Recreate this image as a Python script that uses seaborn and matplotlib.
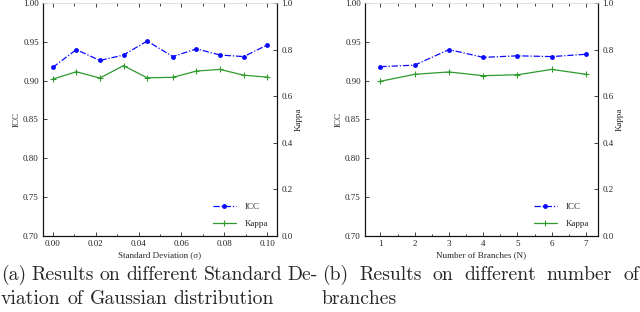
import matplotlib
matplotlib.use("Agg")
import matplotlib.pyplot as plt
import seaborn as sns
import pandas as pd
from matplotlib.ticker import AutoMinorLocator, MultipleLocator

# ---- data ----
sigma = [0.000, 0.011, 0.022, 0.033, 0.044, 0.056, 0.067, 0.078, 0.089, 0.100]
icc_sigma = [0.917, 0.940, 0.926, 0.933, 0.951, 0.931, 0.941, 0.933, 0.931, 0.946]
kappa_sigma = [0.673, 0.705, 0.678, 0.731, 0.679, 0.681, 0.708, 0.715, 0.690, 0.682]

branches = [1, 2, 3, 4, 5, 6, 7]
icc_branch = [0.918, 0.920, 0.940, 0.930, 0.932, 0.931, 0.934]
kappa_branch = [0.664, 0.694, 0.704, 0.688, 0.692, 0.715, 0.694]

xlabels = ["Standard Deviation (σ)", "Number of Branches (N)"]
captions = [
    ["(a) Results on different Standard De-", "viation of Gaussian distribution"],
    ["(b) Results on different number of", "branches"],
]

sns.set_style("white")
plt.rcParams["font.family"] = ["Liberation Serif", "DejaVu Serif"]
plt.rcParams["mathtext.fontset"] = "stix"

fig = plt.figure(figsize=(6.4, 3.12), dpi=100)
W, H = 640, 312

def add_ax(l, r, t, b):
    return fig.add_axes([l / W, 1 - b / H, (r - l) / W, (b - t) / H])

ax_a = add_ax(43, 277, 3, 236)
ax_b = add_ax(365, 598, 3, 236)

blue = "#0a0aff"
green = "#2e9a2e"
tick_fs = 6.5

def setup(ax, xs, icc, kappa, xlabel, xlim, xmajor):
    df = pd.DataFrame({"x": xs, "icc": icc, "kappa": kappa})
    sns.lineplot(data=df, x="x", y="icc", ax=ax, color=blue, linestyle=(0, (5, 1.5, 1, 1.5)),
                 marker="o", markersize=3.5, markeredgewidth=0, markeredgecolor=blue,
                 linewidth=0.9, label="ICC", legend=False)
    ax2 = ax.twinx()
    sns.lineplot(data=df, x="x", y="kappa", ax=ax2, color=green, linestyle="-",
                 marker="+", markersize=4, markeredgewidth=0.8, markeredgecolor=green,
                 linewidth=0.9, label="Kappa", legend=False)
    ax.set_ylim(0.70, 1.00)
    ax2.set_ylim(0.0, 1.0)
    ax.set_xlim(*xlim)
    ax.xaxis.set_major_locator(MultipleLocator(xmajor))
    ax.xaxis.set_minor_locator(AutoMinorLocator(2))
    ax.yaxis.set_major_locator(MultipleLocator(0.05))
    ax2.yaxis.set_major_locator(MultipleLocator(0.2))
    ax.tick_params(axis="x", which="both", direction="in", top=True, bottom=True,
                   labelsize=tick_fs, pad=3, length=3, width=0.6, color="#222222")
    ax.tick_params(axis="x", which="minor", length=1.8)
    ax.tick_params(axis="y", which="both", direction="in", left=True, right=False,
                   labelsize=tick_fs, pad=3, length=3, width=0.6, color="#222222")
    ax2.tick_params(axis="y", which="both", direction="in", right=True,
                    labelsize=tick_fs, pad=3, length=3, width=0.6, color="#222222")
    if xmajor < 1:
        ax.xaxis.set_major_formatter(matplotlib.ticker.FormatStrFormatter("%.2f"))
    ax.yaxis.set_major_formatter(matplotlib.ticker.FormatStrFormatter("%.2f"))
    ax2.yaxis.set_major_formatter(matplotlib.ticker.FormatStrFormatter("%.1f"))
    ax.set_xlabel(xlabel, fontsize=6.5, labelpad=2)
    ax.set_ylabel("ICC", fontsize=6.5, labelpad=2)
    ax2.set_ylabel("Kappa", fontsize=6.5, labelpad=2, rotation=90)
    for a in (ax, ax2):
        for side in ("left", "right", "bottom"):
            a.spines[side].set_color("#111111")
            a.spines[side].set_linewidth(0.8)
        a.spines["top"].set_color("#dddddd")
        a.spines["top"].set_linewidth(0.5)
    h1, l1 = ax.get_legend_handles_labels()
    h2, l2 = ax2.get_legend_handles_labels()
    ax2.legend(h1 + h2, l1 + l2, loc="lower right", frameon=False, fontsize=6.5,
               handlelength=2.6, handletextpad=0.9, labelspacing=0.9,
               bbox_to_anchor=(0.995, 0.0))
    return ax2

setup(ax_a, sigma, icc_sigma, kappa_sigma, xlabels[0], (-0.0045, 0.1045), 0.02)
setup(ax_b, branches, icc_branch, kappa_branch, xlabels[1], (0.55, 7.35), 1)

# ---- captions (justified first line) ----
cap_fs = 14.2
renderer = fig.canvas.get_renderer()

def justified(line, x0, x1, y, justify=True):
    words = line.split(" ")
    texts = [fig.text(0, 1 - y / H, w, fontsize=cap_fs, family="cmr10", va="baseline", ha="left")
             for w in words]
    widths = [t.get_window_extent(renderer).width for t in texts]
    if justify and len(words) > 1:
        gap = (x1 - x0 - sum(widths)) / (len(words) - 1)
    else:
        gap = cap_fs * 100 / 72 * 0.333
    x = x0
    for t, w in zip(texts, widths):
        t.set_x(x / W)
        x += w + gap

justified(captions[0][0], 1, 318, 280)
justified(captions[0][1], 1, 318, 304, justify=False)
justified(captions[1][0], 322, 639, 280)
justified(captions[1][1], 322, 639, 304, justify=False)

fig.savefig("out.png", dpi=100)
